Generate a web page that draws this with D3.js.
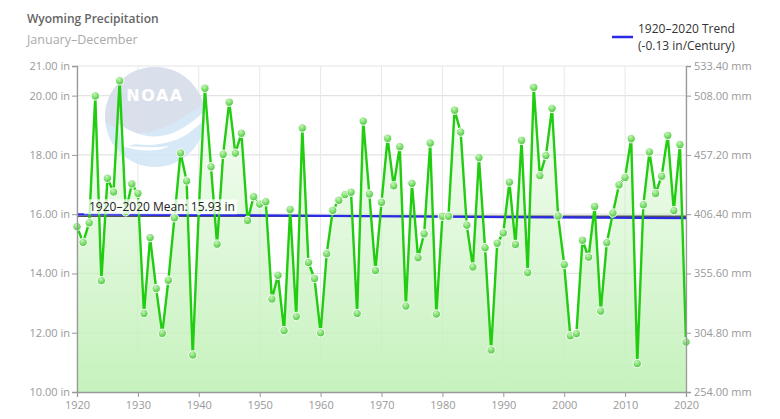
<!DOCTYPE html>
<html><head><meta charset="utf-8">
<script src="https://cdn.jsdelivr.net/npm/d3@7"></script>
<style>
body{margin:0;background:#fff;}
svg{display:block;font-family:"Open Sans",sans-serif;}
</style></head>
<body><svg id="c" width="780" height="419"></svg>
<script>
const years = d3.range(1920, 2021);
const precip = [
15.58,15.05,15.71,19.99,13.76,17.21,16.75,20.50,16.08,17.02,
16.70,12.65,15.21,13.49,11.98,13.77,15.88,18.07,17.12,11.25,
16.14,20.25,17.60,14.99,18.02,19.78,18.06,18.73,15.79,16.59,
16.34,16.42,13.14,13.94,12.07,16.16,12.55,18.91,14.37,13.83,
12.00,14.67,16.13,16.47,16.66,16.74,12.65,19.14,16.68,14.10,
16.40,18.56,16.96,18.28,12.90,17.04,14.53,15.34,18.40,12.63,
15.93,15.93,19.51,18.77,15.63,14.22,17.91,14.87,11.42,15.02,
15.37,17.08,14.98,18.49,14.03,20.28,17.30,17.98,19.57,15.94,
14.30,11.90,11.97,15.12,14.55,16.26,12.73,15.04,16.04,16.99,
17.24,18.55,10.96,16.32,18.10,16.70,17.28,18.66,16.12,18.35,
11.69];
const meanValue = 15.93;
const trendYears = [1920, 2020];
const trendValues = [15.995, 15.865];
const yTicksIn = [10, 12, 14, 16, 18, 20, 21];
const xTicks = d3.range(1920, 2021, 10);
const titleText = "Wyoming Precipitation";
const subtitleText = "January–December";
const legendLines = ["1920–2020 Trend", "(-0.13 in/Century)"];
const meanLabel = "1920–2020 Mean: 15.93 in";

const svg = d3.select("#c");
const L = 77, R = 686, T = 66, B = 392;
const x = d3.scaleLinear().domain([1920, 2020]).range([L, R]);
const y = d3.scaleLinear().domain([10, 21]).range([B, T]);

const defs = svg.append("defs");
const ag = defs.append("linearGradient").attr("id","ag")
  .attr("gradientUnits","userSpaceOnUse").attr("x1",0).attr("y1",T).attr("x2",0).attr("y2",B);
ag.append("stop").attr("offset","0%").attr("stop-color","#c6f2bd").attr("stop-opacity",0.05);
ag.append("stop").attr("offset","100%").attr("stop-color","#c6f2bd").attr("stop-opacity",1);
const mg = defs.append("radialGradient").attr("id","mg").attr("cx","40%").attr("cy","30%").attr("r","70%");
mg.append("stop").attr("offset","0%").attr("stop-color","#c4f5b6");
mg.append("stop").attr("offset","100%").attr("stop-color","#49c93a");
defs.append("clipPath").attr("id","lc").append("circle").attr("cx",155).attr("cy",117).attr("r",50);

// grid
svg.append("g").selectAll("line").data(yTicksIn).join("line")
  .attr("x1",L).attr("x2",R).attr("y1",d=>y(d)).attr("y2",d=>y(d))
  .attr("stroke","#e3e3e3").attr("stroke-width",1.2);
svg.append("g").selectAll("line").data(xTicks).join("line")
  .attr("y1",T).attr("y2",B).attr("x1",d=>x(d)).attr("x2",d=>x(d))
  .attr("stroke","#e8e8e8").attr("stroke-width",1);

// NOAA logo watermark
const logo = svg.append("g").attr("opacity",0.9);
logo.append("circle").attr("cx",155).attr("cy",117).attr("r",50).attr("fill","#d3e6f6");
const lg = logo.append("g").attr("clip-path","url(#lc)");
lg.append("path").attr("d","M100,60 L215,60 L215,96 C195,110 175,125 150,132 C130,136 115,128 100,120 Z").attr("fill","#d7dde9");
lg.append("path").attr("d","M118,124 C135,134 150,140 170,134 C185,129 198,118 212,104 L212,112 C198,126 186,138 172,141 C158,145 150,146 136,144 L128,146 C140,147 156,148 170,146 C158,152 140,152 122,146 Z").attr("fill","#ffffff");
logo.append("text").attr("x",155).attr("y",101).attr("text-anchor","middle")
  .attr("font-family","DejaVu Sans").attr("font-weight","bold").attr("font-size",16)
  .attr("fill","#ffffff").attr("letter-spacing",1.5).text("NOAA");

// area
const area = d3.area().x((d,i)=>x(years[i])).y0(y(10)).y1(d=>y(d));
svg.append("path").datum(precip).attr("d",area).attr("fill","url(#ag)");

// mean line
svg.append("line").attr("x1",L).attr("x2",R).attr("y1",y(meanValue)).attr("y2",y(meanValue))
  .attr("stroke","#555").attr("stroke-width",1.5);
// trend line
svg.append("line").attr("x1",x(trendYears[0])).attr("x2",x(trendYears[1]))
  .attr("y1",y(trendValues[0])).attr("y2",y(trendValues[1]))
  .attr("stroke","#2a2ae6").attr("stroke-width",2.2);

// data line
const line = d3.line().x((d,i)=>x(years[i])).y(d=>y(d));
svg.append("path").datum(precip).attr("d",line).attr("fill","none")
  .attr("stroke","#22cc11").attr("stroke-width",2.4).attr("stroke-linejoin","round");

// markers
svg.append("g").selectAll("circle").data(precip).join("circle")
  .attr("cx",(d,i)=>x(years[i])).attr("cy",d=>y(d)).attr("r",4.2)
  .attr("fill","url(#mg)").attr("stroke","#ffffff").attr("stroke-width",1);

// mean label
const mlab = svg.append("g");
mlab.append("rect").attr("x",84).attr("y",y(meanValue)-17).attr("width",153).attr("height",15)
  .attr("fill","#ffffff").attr("opacity",0.75);
mlab.append("text").attr("x",89).attr("y",y(meanValue)-5).attr("font-size",12).attr("fill","#222")
  .text(meanLabel);

// axes
const axCol = "#999";
const leftAx = svg.append("g").attr("transform",`translate(${L},0)`)
  .call(d3.axisLeft(y).tickValues(yTicksIn).tickSize(5).tickFormat(d=>d3.format(".2f")(d)+" in"));
const rightAx = svg.append("g").attr("transform",`translate(${R},0)`)
  .call(d3.axisRight(y).tickValues(yTicksIn).tickSize(5).tickFormat(d=>d3.format(".2f")(d*25.4)+" mm"));
const botAx = svg.append("g").attr("transform",`translate(0,${B})`)
  .call(d3.axisBottom(x).tickValues(xTicks).tickSize(5).tickFormat(d3.format("d")));
[leftAx,rightAx,botAx].forEach(g=>{
  g.selectAll("path.domain").attr("stroke",axCol).attr("stroke-width",1.3);
  g.selectAll(".tick line").attr("stroke",axCol);
  g.selectAll("text").attr("fill","#999").attr("font-size",11).attr("font-family","Open Sans");
});
leftAx.selectAll("text").attr("x",-7);
rightAx.selectAll("text").attr("x",8);
botAx.selectAll("text").attr("y",9);

// title
svg.append("text").attr("x",27).attr("y",23).attr("font-size",12).attr("font-weight",600)
  .attr("fill","#666").text(titleText);
svg.append("text").attr("x",27).attr("y",44).attr("font-size",12.5)
  .attr("fill","#aaa").text(subtitleText);

// legend
svg.append("line").attr("x1",612).attr("x2",633).attr("y1",37).attr("y2",37)
  .attr("stroke","#2a2ae6").attr("stroke-width",2.5);
svg.append("g").selectAll("text").data(legendLines).join("text")
  .attr("x",638).attr("y",(d,i)=>33+i*16.5).attr("font-size",12).attr("fill","#333").text(d=>d);
</script></body></html>
